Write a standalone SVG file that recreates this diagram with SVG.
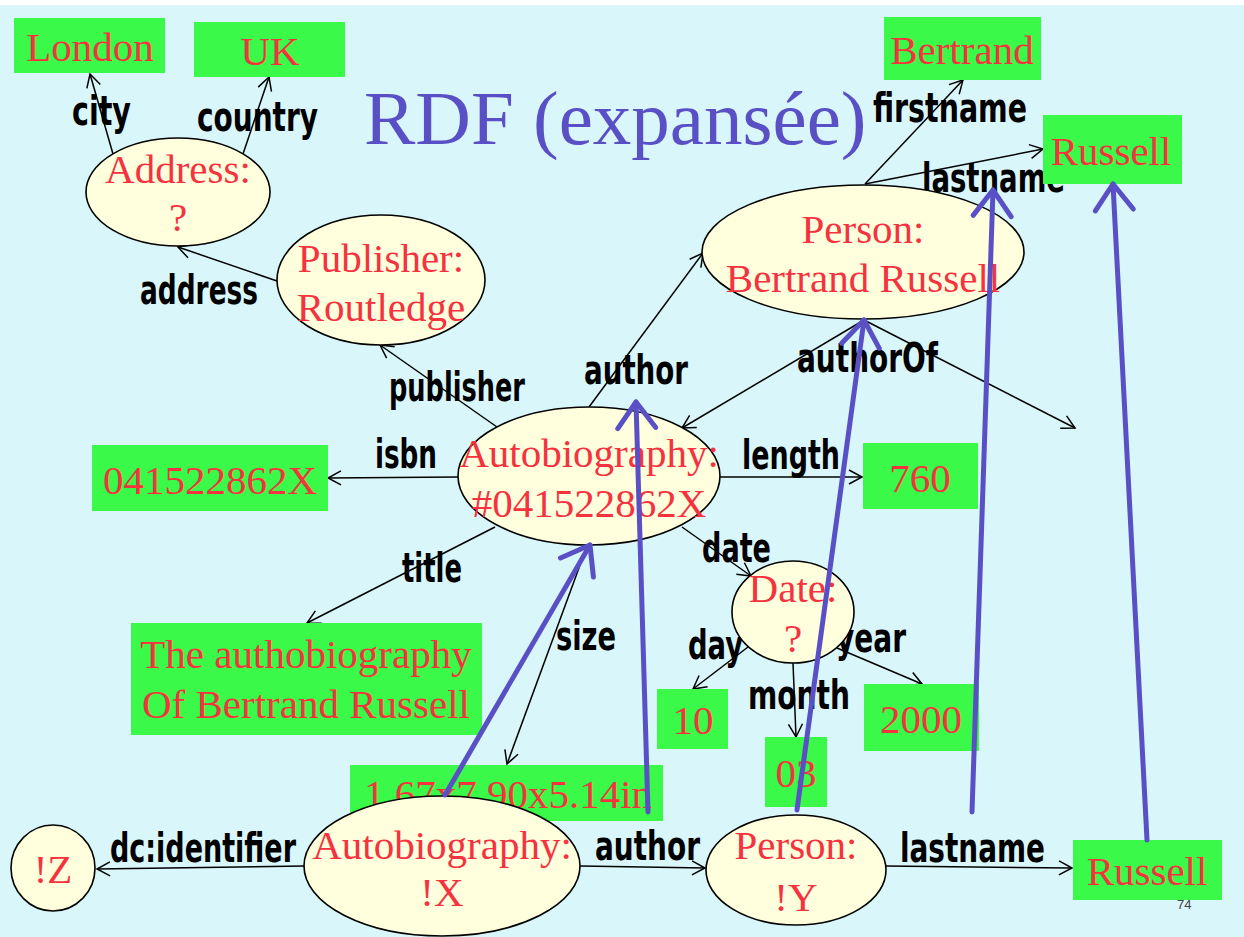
<svg xmlns="http://www.w3.org/2000/svg" width="1244" height="937" viewBox="0 0 1244 937">
  <defs>
    <style>
      .bg { fill: #d9f6fa; }
      .lit { fill: #3af948; }
      .res { fill: #fffedd; stroke: #000; stroke-width: 1.6; }
      .val { font-family: "Liberation Serif", "Times New Roman", serif; font-size: 41px; fill: #f5323e; text-anchor: middle; }
      .lbl { font-family: "Liberation Sans Narrow", "DejaVu Sans Condensed", "Liberation Sans", sans-serif; font-weight: bold; font-size: 40px; fill: #000; }
      .edge { fill: none; stroke: #000; stroke-width: 1.5; marker-end: url(#tip); }
      .link { fill: none; stroke: #5a50c5; stroke-width: 5; stroke-linecap: round; marker-end: url(#bigtip); }
      .title { font-family: "Liberation Serif", "Times New Roman", serif; font-size: 77px; fill: #5a50c5; }
    </style>
    <marker id="tip" viewBox="0 0 16 16" refX="15" refY="8" markerWidth="16" markerHeight="16" markerUnits="userSpaceOnUse" orient="auto" overflow="visible">
      <path d="M2,1 L15,8 L2,15" fill="none" stroke="#000" stroke-width="1.5"/>
    </marker>
    <marker id="bigtip" viewBox="0 0 34 44" refX="30" refY="22" markerWidth="34" markerHeight="44" markerUnits="userSpaceOnUse" orient="auto" overflow="visible">
      <path d="M4,3 L30,22 L4,41" fill="none" stroke="#5a50c5" stroke-width="5" stroke-linecap="round" stroke-linejoin="round"/>
    </marker>
  </defs>

  <rect x="0" y="0" width="1244" height="937" fill="#ffffff"/>
  <rect class="bg" x="0" y="5" width="1244" height="932"/>

  <text class="title" x="364" y="144">RDF (expansée)</text>

  <!-- property arcs -->
  <g id="connectors">
    <path class="edge" d="M113,154 L90,74"/>
    <path class="edge" d="M243,154 L269,77"/>
    <path class="edge" d="M277,281 L178,247"/>
    <path class="edge" d="M497,427 L380,345"/>
    <path class="edge" d="M589,407 L703,253"/>
    <path class="edge" d="M864,320 L682,428"/>
    <path class="edge" d="M864,320 L1075,428"/>
    <path class="edge" d="M458,477 L328,478"/>
    <path class="edge" d="M720,477 L862,477"/>
    <path class="edge" d="M495,527 L307,623"/>
    <path class="edge" d="M587,546 L507,764"/>
    <path class="edge" d="M682,527 L751,576"/>
    <path class="edge" d="M748,647 L693,689"/>
    <path class="edge" d="M793,663 L796,737"/>
    <path class="edge" d="M837,648 L922,684"/>
    <path class="edge" d="M865,184 L963,80"/>
    <path class="edge" d="M865,184 L1043,149"/>
    <path class="edge" d="M304,866 L97,869"/>
    <path class="edge" d="M580,866 L705,868"/>
    <path class="edge" d="M886,866 L1072,868"/>

    <text class="lbl" x="72" y="125" textLength="59" lengthAdjust="spacingAndGlyphs">city</text>
    <text class="lbl" x="197" y="131" textLength="121" lengthAdjust="spacingAndGlyphs">country</text>
    <text class="lbl" x="140" y="304" textLength="118" lengthAdjust="spacingAndGlyphs">address</text>
    <text class="lbl" x="389" y="401" textLength="136" lengthAdjust="spacingAndGlyphs">publisher</text>
    <text class="lbl" x="584" y="384" textLength="104" lengthAdjust="spacingAndGlyphs">author</text>
    <text class="lbl" x="797" y="372" textLength="141" lengthAdjust="spacingAndGlyphs">authorOf</text>
    <text class="lbl" x="375" y="468" textLength="62" lengthAdjust="spacingAndGlyphs">isbn</text>
    <text class="lbl" x="742" y="469" textLength="98" lengthAdjust="spacingAndGlyphs">length</text>
    <text class="lbl" x="702" y="562" textLength="69" lengthAdjust="spacingAndGlyphs">date</text>
    <text class="lbl" x="402" y="582" textLength="60" lengthAdjust="spacingAndGlyphs">title</text>
    <text class="lbl" x="556" y="650" textLength="60" lengthAdjust="spacingAndGlyphs">size</text>
    <text class="lbl" x="688" y="659" textLength="55" lengthAdjust="spacingAndGlyphs">day</text>
    <text class="lbl" x="836" y="652" textLength="70" lengthAdjust="spacingAndGlyphs">year</text>
    <text class="lbl" x="748" y="709" textLength="102" lengthAdjust="spacingAndGlyphs">month</text>
    <text class="lbl" x="873" y="122" textLength="154" lengthAdjust="spacingAndGlyphs">firstname</text>
    <text class="lbl" x="922" y="192" textLength="143" lengthAdjust="spacingAndGlyphs">lastname</text>
    <text class="lbl" x="110" y="862" textLength="186" lengthAdjust="spacingAndGlyphs">dc:identifier</text>
    <text class="lbl" x="595" y="860" textLength="105" lengthAdjust="spacingAndGlyphs">author</text>
    <text class="lbl" x="900" y="862" textLength="145" lengthAdjust="spacingAndGlyphs">lastname</text>
  </g>

  <!-- literal values -->
  <g id="london"><rect class="lit" x="14" y="18" width="151" height="55"/><text class="val" x="90" y="61">London</text></g>
  <g id="uk"><rect class="lit" x="194" y="22" width="151" height="55"/><text class="val" x="270" y="65">UK</text></g>
  <g id="bertrand"><rect class="lit" x="884" y="17" width="157" height="63"/><text class="val" x="962" y="64">Bertrand</text></g>
  <g id="russell-top"><rect class="lit" x="1043" y="115" width="139" height="69"/><text class="val" x="1111" y="165">Russell</text></g>
  <g id="isbn-value"><rect class="lit" x="92" y="445" width="236" height="66"/><text class="val" x="210" y="494">041522862X</text></g>
  <g id="length-value"><rect class="lit" x="863" y="443" width="115" height="66"/><text class="val" x="920" y="492">760</text></g>
  <g id="title-value"><rect class="lit" x="131" y="623" width="351" height="112"/><text class="val" x="306" y="668">The authobiography</text><text class="val" x="306" y="718">Of Bertrand Russell</text></g>
  <g id="day-value"><rect class="lit" x="657" y="689" width="71" height="60"/><text class="val" x="693" y="734">10</text></g>
  <g id="month-value"><rect class="lit" x="765" y="737" width="62" height="70"/><text class="val" x="796" y="787">03</text></g>
  <g id="year-value"><rect class="lit" x="864" y="684" width="115" height="67"/><text class="val" x="921" y="733">2000</text></g>
  <g id="size-value"><rect class="lit" x="350" y="765" width="313" height="56"/><text class="val" x="508" y="808">1.67x7.90x5.14in</text></g>
  <g id="russell-bottom"><rect class="lit" x="1073" y="840" width="149" height="60"/><text class="val" x="1147" y="885">Russell</text></g>

  <!-- resources -->
  <g id="address"><ellipse class="res" cx="178" cy="192" rx="92" ry="54"/><text class="val" x="178" y="183">Address:</text><text class="val" x="178" y="231">?</text></g>
  <g id="publisher"><ellipse class="res" cx="381" cy="280" rx="104" ry="65"/><text class="val" x="381" y="272">Publisher:</text><text class="val" x="381" y="321">Routledge</text></g>
  <g id="person"><ellipse class="res" cx="863" cy="252" rx="161" ry="67"/><text class="val" x="863" y="243">Person:</text><text class="val" x="863" y="292">Bertrand Russell</text></g>
  <g id="book"><ellipse class="res" cx="589" cy="476" rx="131" ry="69"/><text class="val" x="589" y="467">Autobiography:</text><text class="val" x="589" y="517">#041522862X</text></g>
  <g id="date"><ellipse class="res" cx="793" cy="612" rx="61" ry="51"/><text class="val" x="793" y="602">Date:</text><text class="val" x="793" y="652">?</text></g>
  <g id="blank-z"><ellipse class="res" cx="53" cy="868" rx="42" ry="43"/><text class="val" x="53" y="883">!Z</text></g>
  <g id="blank-x"><ellipse class="res" cx="442" cy="866" rx="138" ry="70"/><text class="val" x="442" y="859">Autobiography:</text><text class="val" x="442" y="906">!X</text></g>
  <g id="blank-y"><ellipse class="res" cx="796" cy="870" rx="90" ry="55"/><text class="val" x="796" y="859">Person:</text><text class="val" x="796" y="911">!Y</text></g>

  <text x="1177" y="909" font-family="Liberation Sans, sans-serif" font-size="13" fill="#444">74</text>

  <!-- correspondence arrows -->
  <g id="mapping">
    <path class="link" d="M445,795 L590,545"/>
    <path class="link" d="M648,812 L636,402"/>
    <path class="link" d="M797,810 L864,320"/>
    <path class="link" d="M972,812 L993,190"/>
    <path class="link" d="M1147,840 L1113,184"/>
  </g>
</svg>
